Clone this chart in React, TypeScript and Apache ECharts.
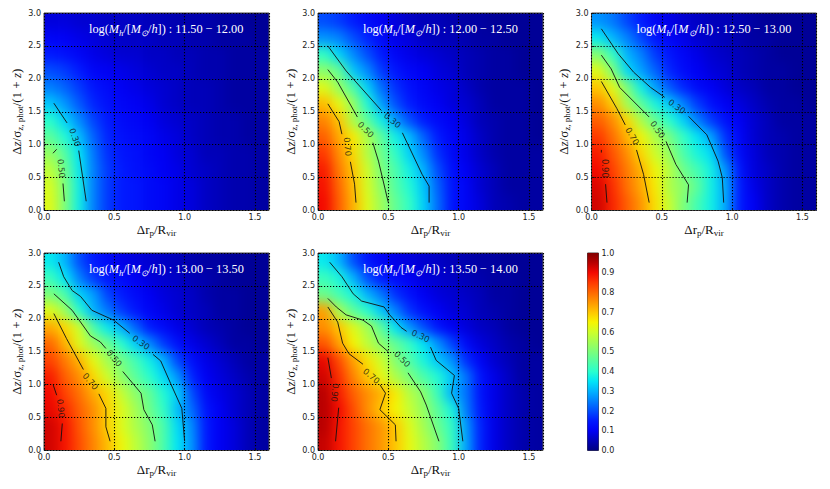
import { useEffect, useRef } from "react";
import * as echarts from "echarts";

const JET = [
  "#000080", "#0000b9", "#0000f4", "#0019ff", "#004dff", "#0080ff", "#00b3ff",
  "#00e5f7", "#29ffce", "#52ffa4", "#7bff7b", "#a4ff52", "#ceff29", "#f7f500",
  "#ffc600", "#ff9700", "#ff6800", "#ff3900", "#f40900", "#b90000", "#800000",
];

const X_CENTERS = [0.05, 0.15, 0.25, 0.35, 0.45, 0.55, 0.65, 0.75, 0.85, 0.95, 1.05, 1.15, 1.25, 1.35, 1.45, 1.55];
const Y_CENTERS = [2.875, 2.625, 2.375, 2.125, 1.875, 1.625, 1.375, 1.125, 0.875, 0.625, 0.375, 0.125];
const X_TICK_STEP = 0.5;
const Y_TICK_STEP = 0.5;
const BAR_TICK_STEP = 0.1;

const massRanges = ["11.50 − 12.00", "12.00 − 12.50", "12.50 − 13.00", "13.00 − 13.50", "13.50 − 14.00"];

// fraction per cell, top row first
const heat1 = [
  [0.08, 0.08, 0.07, 0.07, 0.06, 0.06, 0.06, 0.05, 0.05, 0.04, 0.04, 0.04, 0.03, 0.03, 0.02, 0.02],
  [0.11, 0.10, 0.09, 0.08, 0.07, 0.06, 0.06, 0.06, 0.05, 0.05, 0.04, 0.04, 0.03, 0.03, 0.03, 0.02],
  [0.15, 0.13, 0.11, 0.09, 0.08, 0.07, 0.07, 0.06, 0.06, 0.05, 0.05, 0.04, 0.04, 0.03, 0.03, 0.03],
  [0.20, 0.18, 0.15, 0.11, 0.10, 0.09, 0.08, 0.07, 0.06, 0.06, 0.05, 0.04, 0.04, 0.03, 0.03, 0.03],
  [0.25, 0.22, 0.18, 0.14, 0.12, 0.10, 0.09, 0.08, 0.07, 0.06, 0.05, 0.05, 0.04, 0.03, 0.03, 0.03],
  [0.32, 0.27, 0.21, 0.16, 0.13, 0.11, 0.10, 0.09, 0.07, 0.06, 0.05, 0.05, 0.04, 0.03, 0.03, 0.03],
  [0.40, 0.33, 0.26, 0.19, 0.15, 0.12, 0.11, 0.10, 0.08, 0.07, 0.06, 0.05, 0.04, 0.04, 0.03, 0.03],
  [0.46, 0.39, 0.31, 0.22, 0.16, 0.13, 0.12, 0.11, 0.09, 0.08, 0.06, 0.05, 0.04, 0.04, 0.03, 0.03],
  [0.53, 0.45, 0.35, 0.24, 0.17, 0.14, 0.13, 0.11, 0.10, 0.08, 0.07, 0.05, 0.05, 0.04, 0.04, 0.03],
  [0.58, 0.48, 0.36, 0.25, 0.18, 0.15, 0.13, 0.12, 0.10, 0.09, 0.07, 0.06, 0.05, 0.04, 0.04, 0.03],
  [0.61, 0.50, 0.37, 0.25, 0.18, 0.15, 0.14, 0.12, 0.11, 0.09, 0.08, 0.06, 0.05, 0.04, 0.04, 0.03],
  [0.62, 0.50, 0.37, 0.25, 0.18, 0.15, 0.14, 0.12, 0.11, 0.09, 0.08, 0.06, 0.05, 0.04, 0.04, 0.03],
];
const heat2 = [
  [0.20, 0.18, 0.15, 0.12, 0.10, 0.08, 0.06, 0.05, 0.05, 0.04, 0.03, 0.03, 0.02, 0.02, 0.02, 0.02],
  [0.27, 0.25, 0.20, 0.16, 0.12, 0.09, 0.08, 0.06, 0.05, 0.05, 0.04, 0.03, 0.03, 0.02, 0.02, 0.02],
  [0.41, 0.33, 0.26, 0.20, 0.15, 0.11, 0.09, 0.08, 0.07, 0.06, 0.05, 0.04, 0.03, 0.03, 0.02, 0.02],
  [0.52, 0.47, 0.32, 0.26, 0.18, 0.14, 0.11, 0.10, 0.08, 0.07, 0.05, 0.04, 0.03, 0.03, 0.02, 0.02],
  [0.62, 0.53, 0.44, 0.33, 0.23, 0.17, 0.13, 0.11, 0.09, 0.08, 0.06, 0.04, 0.03, 0.03, 0.03, 0.02],
  [0.71, 0.63, 0.53, 0.39, 0.28, 0.20, 0.15, 0.12, 0.10, 0.08, 0.07, 0.05, 0.03, 0.03, 0.03, 0.02],
  [0.77, 0.70, 0.56, 0.46, 0.37, 0.28, 0.20, 0.15, 0.12, 0.10, 0.08, 0.05, 0.04, 0.03, 0.03, 0.02],
  [0.81, 0.73, 0.66, 0.56, 0.46, 0.37, 0.31, 0.22, 0.15, 0.11, 0.09, 0.06, 0.04, 0.03, 0.03, 0.02],
  [0.85, 0.76, 0.68, 0.57, 0.48, 0.41, 0.33, 0.26, 0.17, 0.12, 0.09, 0.06, 0.04, 0.03, 0.03, 0.03],
  [0.88, 0.78, 0.70, 0.60, 0.50, 0.44, 0.37, 0.30, 0.20, 0.13, 0.10, 0.07, 0.05, 0.03, 0.03, 0.03],
  [0.89, 0.80, 0.71, 0.61, 0.52, 0.45, 0.39, 0.32, 0.22, 0.14, 0.11, 0.07, 0.05, 0.03, 0.03, 0.03],
  [0.90, 0.81, 0.72, 0.62, 0.54, 0.47, 0.41, 0.33, 0.23, 0.14, 0.11, 0.08, 0.05, 0.04, 0.03, 0.03],
];
const heat3 = [
  [0.27, 0.24, 0.19, 0.15, 0.11, 0.09, 0.07, 0.06, 0.05, 0.05, 0.04, 0.03, 0.02, 0.02, 0.02, 0.02],
  [0.36, 0.30, 0.25, 0.19, 0.14, 0.11, 0.09, 0.07, 0.06, 0.05, 0.04, 0.03, 0.03, 0.02, 0.02, 0.02],
  [0.51, 0.41, 0.30, 0.25, 0.18, 0.14, 0.11, 0.09, 0.07, 0.06, 0.05, 0.04, 0.03, 0.02, 0.02, 0.02],
  [0.62, 0.50, 0.34, 0.28, 0.22, 0.16, 0.12, 0.10, 0.08, 0.07, 0.05, 0.04, 0.03, 0.03, 0.02, 0.02],
  [0.70, 0.62, 0.50, 0.37, 0.28, 0.21, 0.16, 0.12, 0.10, 0.08, 0.06, 0.05, 0.03, 0.03, 0.02, 0.02],
  [0.76, 0.69, 0.55, 0.46, 0.38, 0.32, 0.25, 0.18, 0.13, 0.10, 0.08, 0.06, 0.04, 0.03, 0.03, 0.02],
  [0.81, 0.76, 0.68, 0.56, 0.47, 0.40, 0.33, 0.25, 0.18, 0.13, 0.10, 0.07, 0.05, 0.03, 0.03, 0.03],
  [0.85, 0.79, 0.72, 0.64, 0.56, 0.49, 0.41, 0.35, 0.28, 0.17, 0.11, 0.07, 0.05, 0.04, 0.03, 0.03],
  [0.88, 0.82, 0.76, 0.68, 0.60, 0.53, 0.44, 0.38, 0.34, 0.20, 0.12, 0.08, 0.05, 0.04, 0.03, 0.03],
  [0.90, 0.84, 0.78, 0.72, 0.64, 0.57, 0.48, 0.43, 0.37, 0.27, 0.14, 0.08, 0.06, 0.04, 0.03, 0.03],
  [0.92, 0.86, 0.79, 0.73, 0.66, 0.56, 0.52, 0.46, 0.37, 0.29, 0.15, 0.09, 0.06, 0.04, 0.03, 0.03],
  [0.93, 0.87, 0.81, 0.75, 0.67, 0.59, 0.50, 0.43, 0.37, 0.29, 0.15, 0.10, 0.06, 0.04, 0.03, 0.03],
];
const heat4 = [
  [0.36, 0.30, 0.20, 0.15, 0.12, 0.09, 0.08, 0.07, 0.06, 0.05, 0.04, 0.03, 0.03, 0.02, 0.02, 0.02],
  [0.42, 0.35, 0.25, 0.18, 0.14, 0.12, 0.10, 0.08, 0.07, 0.06, 0.05, 0.04, 0.03, 0.02, 0.02, 0.02],
  [0.50, 0.44, 0.33, 0.28, 0.19, 0.15, 0.12, 0.10, 0.08, 0.07, 0.06, 0.04, 0.03, 0.03, 0.02, 0.02],
  [0.62, 0.54, 0.40, 0.30, 0.24, 0.18, 0.14, 0.11, 0.09, 0.07, 0.06, 0.05, 0.03, 0.03, 0.02, 0.02],
  [0.73, 0.68, 0.60, 0.44, 0.36, 0.30, 0.22, 0.15, 0.12, 0.09, 0.07, 0.05, 0.04, 0.03, 0.02, 0.02],
  [0.80, 0.72, 0.62, 0.54, 0.48, 0.40, 0.33, 0.26, 0.18, 0.13, 0.09, 0.07, 0.05, 0.03, 0.03, 0.02],
  [0.84, 0.78, 0.72, 0.63, 0.55, 0.49, 0.43, 0.37, 0.30, 0.19, 0.13, 0.09, 0.07, 0.05, 0.03, 0.03],
  [0.88, 0.81, 0.76, 0.68, 0.60, 0.52, 0.46, 0.40, 0.34, 0.27, 0.16, 0.10, 0.08, 0.06, 0.04, 0.03],
  [0.90, 0.84, 0.79, 0.73, 0.68, 0.59, 0.52, 0.47, 0.39, 0.33, 0.20, 0.12, 0.09, 0.07, 0.05, 0.03],
  [0.91, 0.87, 0.81, 0.76, 0.69, 0.62, 0.55, 0.48, 0.41, 0.31, 0.23, 0.14, 0.10, 0.07, 0.05, 0.03],
  [0.93, 0.89, 0.82, 0.76, 0.69, 0.62, 0.56, 0.51, 0.44, 0.34, 0.26, 0.15, 0.10, 0.08, 0.05, 0.03],
  [0.93, 0.89, 0.83, 0.77, 0.71, 0.64, 0.58, 0.52, 0.44, 0.35, 0.27, 0.15, 0.10, 0.08, 0.05, 0.03],
];
const heat5 = [
  [0.36, 0.30, 0.20, 0.14, 0.11, 0.09, 0.08, 0.07, 0.06, 0.05, 0.04, 0.03, 0.03, 0.02, 0.02, 0.02],
  [0.42, 0.38, 0.30, 0.20, 0.15, 0.12, 0.10, 0.08, 0.07, 0.06, 0.05, 0.04, 0.03, 0.03, 0.02, 0.02],
  [0.48, 0.43, 0.38, 0.30, 0.24, 0.17, 0.13, 0.10, 0.08, 0.07, 0.06, 0.05, 0.03, 0.03, 0.02, 0.02],
  [0.74, 0.55, 0.46, 0.40, 0.32, 0.25, 0.17, 0.13, 0.10, 0.08, 0.07, 0.05, 0.04, 0.03, 0.02, 0.02],
  [0.76, 0.70, 0.62, 0.55, 0.46, 0.35, 0.27, 0.20, 0.14, 0.10, 0.08, 0.06, 0.05, 0.03, 0.02, 0.02],
  [0.82, 0.74, 0.65, 0.58, 0.52, 0.47, 0.41, 0.35, 0.27, 0.19, 0.12, 0.08, 0.06, 0.04, 0.03, 0.02],
  [0.91, 0.83, 0.74, 0.67, 0.60, 0.51, 0.45, 0.38, 0.32, 0.27, 0.17, 0.11, 0.07, 0.05, 0.03, 0.03],
  [0.93, 0.86, 0.77, 0.70, 0.63, 0.56, 0.50, 0.44, 0.39, 0.32, 0.24, 0.14, 0.09, 0.06, 0.03, 0.03],
  [0.95, 0.88, 0.81, 0.76, 0.72, 0.66, 0.57, 0.52, 0.42, 0.30, 0.24, 0.14, 0.09, 0.06, 0.04, 0.03],
  [0.95, 0.90, 0.83, 0.76, 0.70, 0.65, 0.59, 0.53, 0.46, 0.38, 0.25, 0.15, 0.09, 0.06, 0.04, 0.03],
  [0.95, 0.89, 0.84, 0.79, 0.75, 0.70, 0.62, 0.55, 0.48, 0.41, 0.28, 0.16, 0.09, 0.06, 0.04, 0.03],
  [0.94, 0.89, 0.84, 0.79, 0.75, 0.70, 0.63, 0.57, 0.51, 0.42, 0.29, 0.16, 0.09, 0.06, 0.04, 0.03],
];

type Contour = { level: string; at: number[]; segments: number[][][] };

// contours; a gap sits where each label goes
const contours1: Contour[] = [
  { level: "0.30", at: [0.22, 1.11, -70], segments: [[[0.07, 1.63], [0.164, 1.33]], [[0.247, 0.91], [0.3, 0.14]]] },
  { level: "0.50", at: [0.123, 0.64, -85], segments: [[[0.064, 0.87], [0.09, 0.93]], [[0.135, 0.41], [0.145, 0.14]]] },
];
const contours2: Contour[] = [
  { level: "0.30", at: [0.53, 1.37, -40], segments: [[[0.07, 2.5], [0.2, 2.12], [0.45, 1.52]], [[0.6, 1.18], [0.74, 0.55], [0.79, 0.37], [0.79, 0.12]]] },
  { level: "0.50", at: [0.34, 1.23, -45], segments: [[[0.07, 2.14], [0.14, 1.95], [0.28, 1.42]], [[0.39, 1.03], [0.43, 0.75], [0.48, 0.3], [0.5, 0.12]]] },
  { level: "0.70", at: [0.21, 0.97, -85], segments: [[[0.07, 1.62], [0.12, 1.45], [0.15, 1.35], [0.17, 1.16]], [[0.23, 0.74], [0.26, 0.4], [0.27, 0.12]]] },
];
const contours3: Contour[] = [
  { level: "0.30", at: [0.607, 1.58, -35], segments: [[[0.07, 2.76], [0.19, 2.38], [0.3, 2.1], [0.42, 1.87], [0.52, 1.72]], [[0.69, 1.43], [0.82, 1.15], [0.9, 0.75], [0.93, 0.5], [0.94, 0.12]]] },
  { level: "0.50", at: [0.47, 1.23, -55], segments: [[[0.07, 2.36], [0.14, 2.15], [0.2, 1.87], [0.41, 1.42]], [[0.53, 1.05], [0.6, 0.7], [0.69, 0.39], [0.68, 0.12]]] },
  { level: "0.70", at: [0.29, 1.13, -60], segments: [[[0.07, 1.96], [0.18, 1.55], [0.24, 1.3]], [[0.32, 0.92], [0.37, 0.55], [0.41, 0.12]]] },
  { level: "0.90", at: [0.097, 0.64, -90], segments: [[[0.07, 0.92], [0.07, 0.88]], [[0.1, 0.4], [0.11, 0.12]]] },
];
const contours4: Contour[] = [
  { level: "0.30", at: [0.69, 1.64, -35], segments: [[[0.104, 2.86], [0.14, 2.64], [0.2, 2.43], [0.26, 2.34], [0.34, 2.13], [0.495, 1.98], [0.61, 1.78]], [[0.775, 1.46], [0.83, 1.36], [0.9, 1.02], [0.98, 0.64], [1.0, 0.14]]] },
  { level: "0.50", at: [0.5, 1.4, -50], segments: [[[0.07, 2.38], [0.2, 2.13], [0.33, 1.74], [0.4, 1.65], [0.44, 1.55]], [[0.56, 1.2], [0.69, 0.87], [0.71, 0.62], [0.77, 0.39], [0.79, 0.14]]] },
  { level: "0.70", at: [0.33, 1.05, -50], segments: [[[0.07, 2.08], [0.16, 1.7], [0.28, 1.23]], [[0.39, 0.86], [0.44, 0.64], [0.44, 0.36], [0.47, 0.14]]] },
  { level: "0.90", at: [0.12, 0.64, -85], segments: [[[0.065, 1.0], [0.09, 0.84]], [[0.13, 0.41], [0.12, 0.14]]] },
];
const contours5: Contour[] = [
  { level: "0.30", at: [0.73, 1.74, -25], segments: [[[0.083, 2.86], [0.17, 2.64], [0.25, 2.38], [0.31, 2.27], [0.47, 2.18], [0.51, 2.06], [0.59, 1.87], [0.63, 1.81]], [[0.8, 1.57], [0.84, 1.37], [0.97, 1.14], [0.95, 0.87], [1.0, 0.64], [1.03, 0.14]]] },
  { level: "0.50", at: [0.6, 1.39, -45], segments: [[[0.07, 2.31], [0.13, 2.18], [0.2, 2.06], [0.32, 1.98], [0.38, 1.89], [0.43, 1.63], [0.5, 1.5]], [[0.64, 1.18], [0.73, 0.89], [0.77, 0.69], [0.86, 0.14]]] },
  { level: "0.70", at: [0.38, 1.13, -40], segments: [[[0.07, 2.18], [0.14, 1.95], [0.175, 1.63], [0.22, 1.47], [0.32, 1.31]], [[0.44, 1.0], [0.48, 0.87], [0.44, 0.62], [0.55, 0.39], [0.555, 0.14]]] },
  { level: "0.90", at: [0.12, 0.88, -95], segments: [[[0.07, 1.41], [0.095, 1.1]], [[0.147, 0.65], [0.125, 0.14]]] },
];

const heats = [heat1, heat2, heat3, heat4, heat5];
const contourSets = [contours1, contours2, contours3, contours4, contours5];

const PANELS = [
  { left: 44, top: 13 },
  { left: 318, top: 13 },
  { left: 591.5, top: 13 },
  { left: 44, top: 253 },
  { left: 318, top: 253 },
];
const PANEL_W = 225;
const PANEL_H = 197.5;
const PAD = 24; // heat cells run past the frame so the blur does not fade at the edges

const SANS = '"DejaVu Sans", sans-serif';
const SERIF = '"Liberation Serif", serif';
const TICK_COLOR = "#1a1a1a";

function HeatField({ rows, left, top }: { rows: number[][]; left: number; top: number }) {
  const ref = useRef<HTMLDivElement>(null);

  useEffect(() => {
    if (!ref.current) return;
    const chart = echarts.init(ref.current, null, { renderer: "svg" });
    const cells: number[][] = [];
    Y_CENTERS.forEach((y, r) => X_CENTERS.forEach((x, c) => cells.push([x, y, rows[r][c]])));
    chart.setOption({
      animation: false,
      grid: { left: PAD, top: PAD, right: PAD, bottom: PAD },
      xAxis: { type: "value", min: 0, max: 1.6, show: false },
      yAxis: { type: "value", min: 0, max: 3, show: false },
      visualMap: { show: false, type: "continuous", min: 0, max: 1, dimension: 2, inRange: { color: JET } },
      series: [
        {
          type: "custom",
          silent: true,
          encode: { x: 0, y: 1 },
          data: cells,
          renderItem: (_: unknown, api: any) => {
            const x = api.value(0);
            const y = api.value(1);
            const a = api.coord([x - 0.05, y + 0.125]);
            const b = api.coord([x + 0.05, y - 0.125]);
            const x0 = x < 0.1 ? a[0] - PAD : a[0];
            const x1 = x > 1.5 ? b[0] + PAD : b[0] + 0.5;
            const y0 = y > 2.75 ? a[1] - PAD : a[1];
            const y1 = y < 0.25 ? b[1] + PAD : b[1] + 0.5;
            return {
              type: "rect",
              shape: { x: x0, y: y0, width: x1 - x0, height: y1 - y0 },
              style: { fill: api.visual("color") },
            };
          },
        },
      ],
    });
    return () => chart.dispose();
  }, [rows]);

  return (
    <div style={{ position: "absolute", left, top, width: PANEL_W, height: PANEL_H, overflow: "hidden" }}>
      <div
        ref={ref}
        style={{
          position: "absolute",
          left: -PAD,
          top: -PAD,
          width: PANEL_W + 2 * PAD,
          height: PANEL_H + 2 * PAD,
          filter: "blur(6px)",
        }}
      />
    </div>
  );
}

const nameRich = {
  a: { fontFamily: SERIF, fontSize: 13, color: "#111", fontWeight: "normal" },
  i: { fontFamily: SERIF, fontSize: 13, color: "#111", fontStyle: "italic", fontWeight: "normal" },
  s: { fontFamily: SERIF, fontSize: 9, color: "#111", fontWeight: "normal", verticalAlign: "bottom", lineHeight: 16 },
};
const titleRich = {
  r: { fontFamily: SERIF, fontSize: 12.3, color: "#fff", fontWeight: "normal" },
  i: { fontFamily: SERIF, fontSize: 12.3, color: "#fff", fontStyle: "italic", fontWeight: "normal" },
  s: { fontFamily: SERIF, fontSize: 8.5, color: "#fff", fontStyle: "italic", fontWeight: "normal", verticalAlign: "bottom", lineHeight: 16 },
};

function buildOption() {
  const tick = (v: number) => v.toFixed(1);
  const frame = { show: true, borderColor: "#444", borderWidth: 1, backgroundColor: "transparent" };
  const dotted = { show: true, lineStyle: { color: "#000", type: [1.2, 1.8], width: 1.1 } };
  const labelStyle = { fontFamily: SANS, fontSize: 8, color: TICK_COLOR };

  const grid: any[] = PANELS.map((p) => ({ ...frame, left: p.left, top: p.top, width: PANEL_W, height: PANEL_H }));
  const xAxis: any[] = PANELS.map((_, i) => ({
    type: "value",
    gridIndex: i,
    min: 0,
    max: 1.6,
    interval: X_TICK_STEP,
    name: "{a|Δr}{s|p}{a|/R}{s|vir}",
    nameLocation: "middle",
    nameGap: 11,
    nameTextStyle: { rich: nameRich },
    axisLine: { show: false },
    axisTick: { inside: true, length: 2.5, lineStyle: { color: "#111" } },
    axisLabel: { ...labelStyle, margin: 3, formatter: tick, showMaxLabel: false },
    splitLine: dotted,
  }));
  const yAxis: any[] = PANELS.map((_, i) => ({
    type: "value",
    gridIndex: i,
    min: 0,
    max: 3,
    interval: Y_TICK_STEP,
    name: "{a|Δ}{i|z}{a|/σ}{s|z, phot}{a|/(1 + }{i|z}{a|)}",
    nameLocation: "middle",
    nameRotate: 90,
    nameGap: 20,
    nameTextStyle: { rich: nameRich },
    axisLine: { show: false },
    axisTick: { inside: true, length: 2.5, lineStyle: { color: "#111" } },
    axisLabel: { ...labelStyle, margin: 3, formatter: tick },
    splitLine: dotted,
  }));

  const series: any[] = [];
  contourSets.forEach((set, i) => {
    set.forEach((c) => {
      c.segments.forEach((seg) => {
        series.push({
          type: "line",
          xAxisIndex: i,
          yAxisIndex: i,
          data: seg,
          showSymbol: false,
          silent: true,
          lineStyle: { color: "#111", width: 0.9 },
        });
      });
    });
    series.push({
      type: "scatter",
      xAxisIndex: i,
      yAxisIndex: i,
      symbolSize: 0,
      silent: true,
      data: set.map((c) => ({
        value: [c.at[0], c.at[1]],
        label: {
          show: true,
          position: "inside",
          formatter: c.level,
          rotate: c.at[2],
          fontFamily: SANS,
          fontSize: 8.5,
          color: "#111",
        },
      })),
    });
  });

  // colour bar
  grid.push({ ...frame, left: 587.5, top: 253, width: 11, height: 197.5 });
  xAxis.push({ type: "category", gridIndex: 5, data: ["bar"], show: false });
  yAxis.push({
    type: "value",
    gridIndex: 5,
    position: "right",
    min: 0,
    max: 1,
    interval: BAR_TICK_STEP,
    axisLine: { show: false },
    axisTick: { inside: true, length: 2.5, lineStyle: { color: "#111" } },
    axisLabel: { ...labelStyle, margin: 3, formatter: tick },
    splitLine: { show: false },
  });
  series.push({
    type: "bar",
    xAxisIndex: 5,
    yAxisIndex: 5,
    barWidth: "100%",
    silent: true,
    data: [1],
    itemStyle: {
      color: new echarts.graphic.LinearGradient(
        0,
        1,
        0,
        0,
        JET.map((color, k) => ({ offset: k / (JET.length - 1), color })),
      ),
    },
  });

  return {
    animation: false,
    grid,
    xAxis,
    yAxis,
    series,
    title: massRanges.map((range, i) => ({
      left: PANELS[i].left + 40,
      top: PANELS[i].top + 3,
      text: `{r|log(}{i|M}{s|h}{r|/[}{i|M}{s|⊙}{r|/}{i|h}{r|]) : ${range}}`,
      textStyle: { rich: titleRich, fontWeight: "normal" },
    })),
  };
}

export default function App() {
  const ref = useRef<HTMLDivElement>(null);

  useEffect(() => {
    if (!ref.current) return;
    const chart = echarts.init(ref.current, null, { renderer: "svg" });
    chart.setOption(buildOption());
    return () => chart.dispose();
  }, []);

  return (
    <div style={{ position: "fixed", left: 0, top: 0, width: 830, height: 489, background: "#fff" }}>
      {PANELS.map((p, i) => (
        <HeatField key={i} rows={heats[i]} left={p.left} top={p.top} />
      ))}
      <div ref={ref} style={{ position: "absolute", left: 0, top: 0, width: 830, height: 489 }} />
    </div>
  );
}
